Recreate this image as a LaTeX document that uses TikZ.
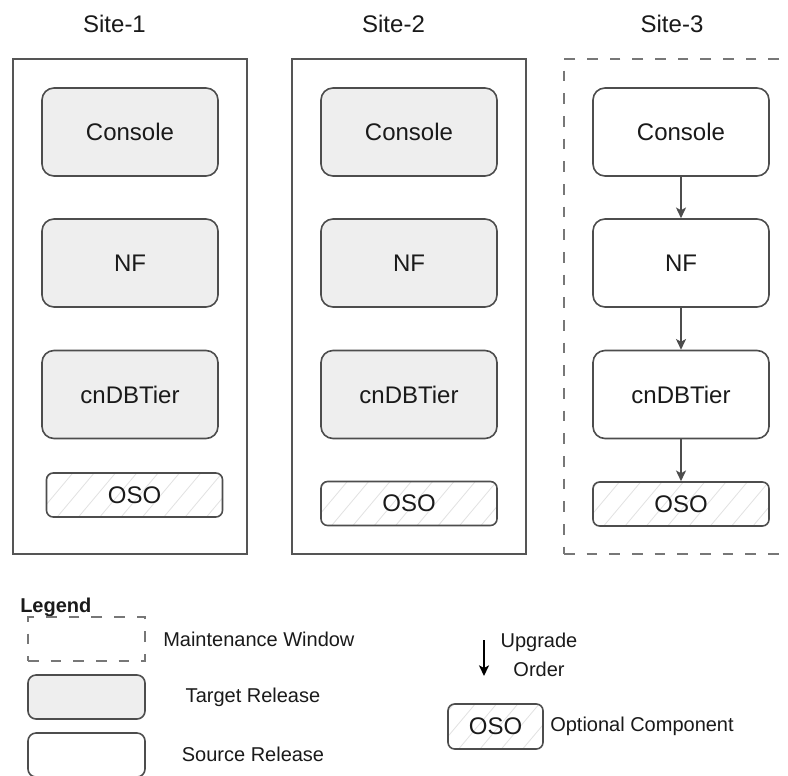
\documentclass[tikz,border=0pt]{standalone}
\usepackage{fontspec}
\setmainfont{Liberation Sans}
\usetikzlibrary{arrows.meta,calc}
\definecolor{edgec}{HTML}{4D4D4D}
\definecolor{sitec}{HTML}{555555}
\definecolor{dashc}{HTML}{777777}
\definecolor{tgtfill}{HTML}{EEEEEE}
\definecolor{hatchc}{HTML}{E2E2E2}
\definecolor{txt}{HTML}{1A1A1A}
\tikzset{
  hatchline/.style={draw=hatchc, line width=0.6pt},
  hatch/.style={path picture={
    \foreach \k in {0,...,14}{
      \draw[hatchline] ([xshift=\k*16pt-40pt]path picture bounding box.south west) -- ++(42pt,50pt);
    }}},
  comp/.style={draw=edgec, line width=1.2pt, rounded corners=9pt, minimum width=132pt,
    minimum height=66pt, font=\fontsize{18}{22}\selectfont, text=txt, inner sep=0pt},
  target/.style={comp, fill=tgtfill},
  source/.style={comp, fill=white},
  oso/.style={draw=edgec, line width=1.2pt, rounded corners=5pt, minimum width=132pt,
    minimum height=33pt, fill=white, hatch, font=\fontsize{18}{22}\selectfont, text=txt, inner sep=0pt},
  sitebox/.style={draw=sitec, line width=1.5pt, minimum width=175.5pt, minimum height=371.25pt, inner sep=0pt},
  mwbox/.style={draw=dashc, line width=1.5pt, dash pattern=on 8pt off 9pt, minimum width=175.5pt, minimum height=371.25pt, inner sep=0pt},
  title/.style={font=\fontsize{18}{22}\selectfont, text=txt, anchor=base},
  legtext/.style={font=\fontsize{15}{22}\selectfont, text=txt, align=center},
  arr/.style={draw=edgec, line width=1.2pt, -{Stealth[length=8pt,width=7.5pt,inset=2pt]}},
}
\begin{document}
\begin{tikzpicture}[x=0.75pt,y=-0.75pt]
\useasboundingbox (0,0) rectangle (788,775);
\clip (0,0) rectangle (788,775);
\fill[white] (0,0) rectangle (788,775);

% titles
\node[title] (t1) at (114.5,32) {Site-1};
\node[title] (t2) at (393.5,32) {Site-2};
\node[title] (t3) at (672,32) {Site-3};

% site boxes
\node[sitebox] (s1) at (130,306.5) {};
\node[sitebox] (s2) at (409,306.5) {};
\node[mwbox] (s3) at (681,306.5) {};

% site 1
\node[target] (c1) at (130,132) {Console};
\node[target] (n1) at (130,263) {NF};
\node[target] (d1) at (130,394.5) {cnDBTier};
\node[oso] (o1) at (134.5,495) {OSO};

% site 2
\node[target] (c2) at (409,132) {Console};
\node[target] (n2) at (409,263) {NF};
\node[target] (d2) at (409,394.5) {cnDBTier};
\node[oso] (o2) at (409,503.5) {OSO};

% site 3
\node[source] (c3) at (681,132) {Console};
\node[source] (n3) at (681,263) {NF};
\node[source] (d3) at (681,394.5) {cnDBTier};
\node[oso] (o3) at (681,504) {OSO};
\draw[arr] (c3.south) -- (n3.north);
\draw[arr] (n3.south) -- (d3.north);
\draw[arr] (d3.south) -- (o3.north);

% legend
\node[legtext, font=\fontsize{15}{22}\selectfont\bfseries, anchor=west, inner sep=0pt] (lg) at (20,607) {Legend};

\node[draw=dashc, line width=1.5pt, dash pattern=on 8pt off 9pt, minimum width=87.75pt, minimum height=33pt, inner sep=0pt] (lmw) at (86.5,639) {};
\node[legtext, anchor=west, inner sep=0pt] (lmwt) at (163,639) {Maintenance Window};

\node[draw=edgec, line width=1.2pt, fill=tgtfill, rounded corners=6pt, minimum width=87.75pt, minimum height=33pt, inner sep=0pt] (ltr) at (86.5,697) {};
\node[legtext] (ltrt) at (253,697) {Target Release};

\node[draw=edgec, line width=1.2pt, fill=white, rounded corners=6pt, minimum width=87.75pt, minimum height=33pt, inner sep=0pt] (lsr) at (86.5,755) {};
\node[legtext] (lsrt) at (253,754) {Source Release};

\coordinate (ua) at (484,640);
\coordinate (ub) at (484,676);
\draw[arr, draw=black] (ua) -- (ub);
\node[legtext] (uot) at (539,655) {Upgrade\\Order};

\node[oso, minimum width=71.25pt, minimum height=33.75pt] (lo) at (495.5,726.5) {OSO};
\node[legtext, anchor=west, inner sep=0pt] (lot) at (550,726) {Optional Component};
\end{tikzpicture}
\end{document}
